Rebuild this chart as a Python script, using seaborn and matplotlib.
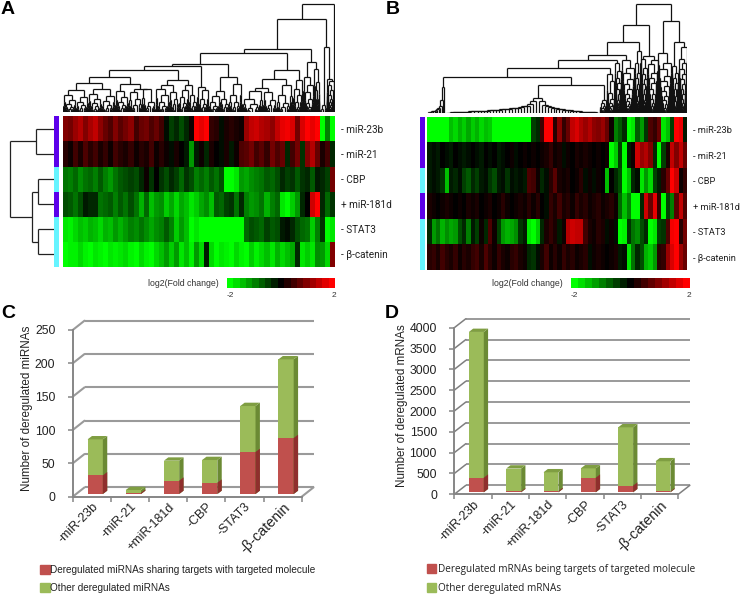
import numpy as np
import pandas as pd
import matplotlib
matplotlib.use("Agg")
import matplotlib.pyplot as plt
import seaborn as sns
from matplotlib.collections import LineCollection
from matplotlib.colors import LinearSegmentedColormap, ListedColormap
from matplotlib.patches import Patch, Polygon

W, H = 740, 594

sns.set_theme(style="white")
plt.rcParams["font.family"] = ["Liberation Sans", "DejaVu Sans"]

# heatmap rows
row_labels = ["- miR-23b", "- miR-21", "- CBP", "+ miR-181d", "- STAT3", "- β-catenin"]
side_groups = [0, 0, 1, 0, 1, 1]
cbar_levels = [-2, -1.75, -1.5, -1.25, -1, -0.75, -0.5, -0.25, 0, 0.25, 0.5, 0.75, 1, 1.25, 1.5, 1.75, 2]

a_mir23b = [1.0, 0.9, 1.2, 1.4, 1.0, 1.3, 1.5, 1.1, 0.8, 0.6, 1.0, 0.7, 0.9, 1.1, 0.5, 0.8, 0.9, 0.6, 0.8, 0.5,
            -0.1, -0.5, -0.3, -0.6, -0.3, 0.1, 2, 1.8, 2, 0.4, 0.3, -0.1, 0.2, 0.3, 0.2, 0.1,
            1.2, 1.5, 1.6, 1.4, 1.3, 1.1, 1.5, 1.8, 1.9, 1.7, 0.9, 1.7, 2, 1.8, 2, -2, -1.0, -2]
a_mir21 = [0.3, 0.1, 0.5, 0.2, 0.6, 0.3, 0.5, 0.2, 0.4, 0.1, 0.5, 0.3, 0.2, 0.4, 0.1, 0.3, 0.2, 0.5, 0.1, 0.3,
           0.1, -0.1, 0.2, 0, -0.2, -1.2, -0.2, 0.1, -0.3, 0.2, 0, -0.1, 0.2, -0.2, 0.1, 0.6,
           0.7, 0.9, 0.5, 0.7, 0.4, 0.9, 0.6, 0.8, -0.3, 0.5, 0.9, -0.4, 1.0, 1.4, 0.8, 0.2, 0.5, -0.3]
a_cbp = [-0.9, -1, -0.8, -1.1, -0.9, -0.8, -1.0, -0.7, -1, -1.2, -0.9, -0.7, -0.6, -0.5, -0.6, -0.3, 0.1, -0.4, 0.0, -0.4,
         -0.6, -0.3, -0.5, -0.8, -0.4, -0.6, -1, -0.8, -1, -0.7, -0.9, -0.6, -2, -2, -1.8, -1.2,
         -1.3, -1.1, -1, -0.9, -0.7, -0.8, -0.6, -0.3, -0.5, -0.4, -0.7, -0.4, -0.3, -0.7, -0.2, -0.3, -0.5, 0.9]
a_mir181d = [-0.6, -0.7, -0.9, -0.6, -0.2, -0.3, -0.3, -0.9, -0.8, -0.7, -1, -0.7, -0.9, -0.6, -0.9, -1.4, -0.8, -1.5, -1.2, -1.1,
             -1.6, -1.3, -1.7, -1.3, -1.5, -1.8, -1.6, -1.3, -1.1, -1.5, -0.7, -0.8, -0.5, -0.4, -0.9, -0.3,
             -1, -1.2, -1.1, -0.9, -1.4, -1, -0.8, -1.8, -2, -1.6, -1.2, -0.3, 0.0, 1.6, 2, -0.3, -0.8, -0.4]
a_stat3 = [-1.8, -1.9, -1.7, -1.5, -1.6, -1.4, -1.5, -1.7, -1.4, -1.5, -1.2, -1.4, -1.2, -1, -1.1, -0.9, -1.1, -1.3, -1.1, -1.0,
           -0.7, -1.0, -1.6, -1.2, -1.5, -2, -1.8, -2, -2, -2, -2, -2, -2, -2, -2, -2,
           -0.8, -0.6, -0.7, -0.8, -0.5, -0.7, -0.6, -0.2, -0.1, -0.3, -0.6, -0.8, -0.9, -1.6, -1.0, -0.4, -2, -1.8]
a_bcat = [-2, -1.9, -1.9, -1.7, -1.9, -2, -1.8, -1.9, -2, -1.8, -1.9, -1.8, -1.7, -1.9, -2, -1.7, -1.9, -2, -1.7, -1.5,
          -1.2, -1.6, -1.2, -1.8, -1.5, -1.9, -1.2, -1.7, -0.2, -1.7, -2, -1.8, -1.9, -2, -1.7, -1.9,
          -2, -1.6, -1.9, -1.7, -1.5, -1.8, -1.4, -1.7, -1.5, -1.3, -0.3, -1.8, -1.6, -1.8, -1.1, -1.2, -1.7, 1.0]

b_mir23b = [-2, -2, -2, -2, -2, -1.5, -1.7, -1.4, -1.6, -1.3, -1.6, -1.4, -1.7, -1.5, -1.6, -2, -2, -2, -2, -2, -2, -2, -2, -2,
            -0.5, -0.3, 0.5, 2, 2, 0.3, 1.1, 0.4, 0.8, 1.5, 1.7, 1.4, 1.2, 1.4, 1.1, 1.0, 1.2, 0.8,
            0.1, -1, -0.7, -0.3, -2, -1.8, -0.7, -1.2, -0.4, 0.6, 0.4, 0.8, -1.8, -1.5, -0.5, 2, 1.8, -0.2]
b_mir21 = [-0.2, -0.1, -0.2, 0, -0.1, -0.2, 0, -0.1, -0.2, -0.1, 0, -0.1, -0.2, 0, -0.1, 0, -0.2, -0.1, 0, 0.1, -0.1, 0, 0.1, 0,
           0.1, 0, 0.1, 0.2, 0.4, 0.1, 0.2, -0.1, 0.1, 0, 0.2, 0.1, 0.2, 0.1, 0, 0.1, 0, 0.1,
           -2, -1.6, -0.5, -2, -0.2, 0.1, 1.6, 1.2, 1.4, 1, -0.3, -2, -0.5, 0.2, 1.5, 1.0, 1.5, 0.8]
b_cbp = [-0.2, -0.1, -0.2, -0.4, -1.5, -0.2, -0.3, -0.1, -0.5, -0.7, -0.3, -0.5, -0.2, -0.1, -0.4, -0.6, -0.2, -0.1, -0.4, -0.1, -0.2, -0.1, -0.2, 0.6,
         0.5, 0.1, -0.3, -0.1, 0.3, 0.7, 0.2, 0.1, 0.2, 0, 0.1, 0.3, -0.1, 0.1, -0.1, 0.1, 0, -1.5, 0, -0.3,
         -0.6, -2, -1.5, -0.3, -0.1, -1.8, -1.2, -1.7, -0.5, -0.2, 0.3, 0.8, 2, 1.6, 0.1, 0.4]
b_mir181d = [0.2, 0.1, 0, 0.1, 0.2, 0.1, 0, 0.1, 0, 0.2, 0.1, 0.2, 0, 0.1, 0.2, 0, 0.1, 0.3, 0.1, 0, 0.1, 0.2, 0.1, 0.3,
             0.1, 0.3, 0, -0.1, 0.4, 0.2, 0.5, 0.2, 0.3, 0.1, 0.4, 0.2, 0.3, 0.1, 0.2, 0.3, 0.1, 0.2, 0.3, 0.1,
             -0.8, -1.5, -1.0, -2, -2, -0.3, 1.6, 0.8, 1.8, 0.4, -2, -0.5, -1, 0.7, 1.5, 0.6]
b_stat3 = [-0.3, -1.2, -0.9, -1.4, -1.1, -1.3, -1.2, -0.6, -0.3, -1.0, -0.2, -0.5, 0.1, -0.3, 0.6, 0.1, -0.5, -1.2, -1.4, -1.3, -1.1, -0.4, -0.2, -1.8,
           -2, -1.6, -0.3, 0.2, 0.4, 0.2, -0.2, 0.1, 1.4, 1.6, 1.5, 1.5, 0.5, 0.2, 0.1, 0.3, 0.2, -0.1, 0.1, -0.1,
           -2, -1.9, -0.4, -0.9, -1.1, -0.6, -0.3, -2, -1.8, -0.5, -0.4, 0.6, 1.9, 2, 0.3, 0.9]
b_bcat = [0.3, 0.4, 0.2, 0.5, 0.3, 0.2, 0.4, 0.1, 0.3, 0.2, 0.4, 0.5, 0.2, 0.6, 0.3, 0.1, 0.4, 0.2, 0.1, 0.3, 0.4, 0.2, 0.1, -0.3,
          -0.4, -0.1, 0.2, 0.5, 0.1, 0.3, 0.1, 0.4, 0.2, 0.3, 0.1, 0.2, 0.3, -0.1, 0.1, 0.2, 0.1, 0, 0.1, 0.2,
          -0.2, -0.1, -1.8, -0.9, -0.3, -0.6, -1.4, -1.6, -1.2, 0.3, 0.4, 1.2, 1.7, 2, 1.2, 0.8]

# bar charts
c_categories = ["-miR-23b", "-miR-21", "+miR-181d", "-CBP", "-STAT3", "-β-catenin"]
c_total = [82, 6, 50, 51, 132, 202]
c_shared = [28, 2, 20, 17, 63, 84]
c_ticks = [0, 50, 100, 150, 200, 250]
d_total = [3850, 570, 480, 575, 1560, 745]
d_targets = [350, 20, 30, 350, 160, 20]
d_ticks = [0, 500, 1000, 1500, 2000, 2500, 3000, 3500, 4000]

GREEN, GREEN_SIDE, GREEN_TOP = "#9bbb59", "#6b8a34", "#7f9e42"
RED, RED_SIDE = "#c0504d", "#8f2f2d"
PURPLE, CYAN = "#5c00ea", "#66f4ff"

heat_cmap = LinearSegmentedColormap.from_list("gbr", ["#00ff00", "#000000", "#ff0000"])


def place(x0, y0, x1, y1):
    return fig.add_axes([x0 / W, 1 - y1 / H, (x1 - x0) / W, (y1 - y0) / H])


def comb(heights, total, twig=0.6):
    # caterpillar subtree, heights go from the top merge down, each leaf split once or twice
    w = total / (len(heights) + 1)
    node = w
    for i, h in enumerate(heights[::-1]):
        tip = h * twig
        side = (tip, (tip * 0.6, w / 4, w / 4), (tip * 0.5, w / 4, w / 4))
        node = (h, node, side) if i % 2 else (h, side, node)
    return node


def lean(heights, total, to_right=True):
    # one sided subtree for the flat parts of the tree
    w = total / (len(heights) + 1)
    node = w
    for h in heights[::-1]:
        node = (h, w, node) if to_right else (h, node, w)
    return node


def walk(node, start, segs):
    if not isinstance(node, tuple):
        return start + node / 2, 0, start + node
    h, left, right = node
    x1, h1, end = walk(left, start, segs)
    x2, h2, end = walk(right, end, segs)
    segs += [[(x1, h1), (x1, h)], [(x1, h), (x2, h)], [(x2, h), (x2, h2)]]
    return (x1 + x2) / 2, h, end


def draw_tree(ax, tree, lw=0.9):
    segs = []
    _, top, end = walk(tree, 0, segs)
    ax.add_collection(LineCollection(segs, colors="#111111", linewidths=lw))
    ax.set_xlim(0, end)
    ax.set_ylim(0, top + 2)
    ax.axis("off")


def heat_panel(rows, bounds, side_x, cbar_box, label_x, label_size):
    x0, y0, x1, y1 = bounds
    ax = place(x0, y0, x1, y1)
    df = pd.DataFrame(rows, index=row_labels)
    sns.heatmap(df, ax=ax, cmap=heat_cmap, vmin=-2, vmax=2, xticklabels=False, yticklabels=row_labels, cbar=False)
    ax.yaxis.tick_right()
    ax.tick_params(axis="y", length=0, pad=4, labelrotation=0, labelsize=label_size)
    for t in ax.get_yticklabels():
        t.set_family(["Roboto", "Liberation Sans"])
        t.set_color("#222222")

    # colour key, same colours in 17 steps
    cax = place(*cbar_box)
    sns.heatmap(pd.DataFrame([cbar_levels]), ax=cax, cmap=heat_cmap, vmin=-2, vmax=2, cbar=False, yticklabels=False)
    cax.set_xticks([0.5, 16.8])
    cax.set_xticklabels(["-2", "2"], rotation=0, fontsize=6, color="#333333")
    cax.tick_params(axis="x", length=0, pad=3)
    fig.text(label_x / W, 1 - (cbar_box[1] + 5) / H, "log2(Fold change)", fontsize=6.3,
             ha="right", va="center", color="#333333")

    sax = place(side_x, y0, side_x + 4.5, y1)
    sns.heatmap(pd.DataFrame(side_groups), ax=sax, cmap=ListedColormap([PURPLE, CYAN]), cbar=False,
                xticklabels=False, yticklabels=False)


def add_depth(ax, bars, dx, dy, side, top, base):
    for p in bars:
        x0 = p.get_x()
        x1 = x0 + p.get_width()
        y1 = p.get_y() + p.get_height()
        ax.add_patch(Polygon([(x1, base), (x1 + dx, base + dy), (x1 + dx, y1 + dy), (x1, y1)],
                             fc=side, ec="none", zorder=3, clip_on=False))
        if top:
            ax.add_patch(Polygon([(x0, y1), (x1, y1), (x1 + dx, y1 + dy), (x0 + dx, y1 + dy)],
                                 fc=top, ec="none", zorder=3, clip_on=False))


def bar_panel(bounds, total, part, ticks, ylabel, wall_dy, bar_base, bar_dy, grid_c, grid_lw, label_y):
    ax = place(*bounds)
    df = pd.DataFrame({"name": c_categories, "total": total, "part": part})
    sns.barplot(data=df, x="name", y="total", color=GREEN, width=0.4, saturation=1, linewidth=0, ax=ax, zorder=2)
    n_green = len(ax.patches)
    sns.barplot(data=df, x="name", y="part", color=RED, width=0.4, saturation=1, linewidth=0, ax=ax, zorder=2.5)
    ax.set_xlim(-0.5, 5.5)
    ax.set_ylim(ticks[0], ticks[-1])
    patches = list(ax.patches)
    for p in patches:
        p.set_x(p.get_x() + 0.09)
        p.set_y(bar_base)
        p.set_clip_on(False)
    add_depth(ax, patches[:n_green], 0.115, bar_dy, GREEN_SIDE, GREEN_TOP, bar_base)
    add_depth(ax, patches[n_green:], 0.115, bar_dy, RED_SIDE, None, bar_base)

    # back wall and the slanted wall lines
    wall_dx = 0.31
    for t in ticks:
        ax.plot([-0.5 + wall_dx, 5.5 + wall_dx], [t + wall_dy, t + wall_dy], color=grid_c, lw=grid_lw,
                zorder=1, clip_on=False, solid_capstyle="butt")
        ax.plot([-0.5, -0.5 + wall_dx], [t, t + wall_dy], color=grid_c, lw=grid_lw, zorder=1, clip_on=False)
    ax.plot([5.5, 5.5 + wall_dx], [0, wall_dy], color=grid_c, lw=grid_lw, zorder=1, clip_on=False)

    ax.set_yticks(ticks)
    ax.set_xticks(range(6))
    ax.set_xticks(np.arange(7) - 0.5, minor=True)
    ax.set_xticklabels(c_categories, rotation=45, ha="right", rotation_mode="anchor", fontsize=9,
                       color="#222222")
    ax.get_xticklabels()[-1].set_fontsize(10.4)
    ax.tick_params(axis="x", which="major", length=0, pad=3)
    ax.tick_params(axis="x", which="minor", length=3.5, width=1.1, color="#868686", bottom=True)
    ax.tick_params(axis="y", length=3.5, width=1.1, color="#868686", labelsize=8.8, pad=9,
                   labelcolor="#222222", left=True)
    ax.set_xlabel("")
    ax.set_ylabel(ylabel, fontsize=8.4, color="#222222", labelpad=1, y=label_y)
    sns.despine(ax=ax)
    for side in ["left", "bottom"]:
        ax.spines[side].set_color("#868686")
        ax.spines[side].set_linewidth(1.4)
    ax.patch.set_alpha(0)
    return ax


fig = plt.figure(figsize=(W / 100, H / 100), dpi=100)

# ---- A ----
a_left = (145,
          (138,
           (125,
            (105,
             (88,
              (65, comb([50, 35, 25, 15, 9], 39), comb([45, 30, 20, 12], 37)),
              (70, comb([55, 40, 28, 18, 10], 39), comb([48, 32, 22, 12], 41))),
             (85, comb([62, 46, 30, 20, 12], 39), (68, comb([60, 40, 22], 40), comb([70, 30, 18], 41)))),
            (95,
             (80, comb([70, 50, 30, 18, 10], 42), comb([60, 38, 24], 28)),
             (80, comb([66, 44, 28, 14], 30), comb([50, 30, 18], 25)))),
           comb([75, 65, 40, 25, 14], 35)),
          (105,
           (62, comb([48, 30, 18, 10], 35), comb([40, 25, 14], 25)),
           comb([85, 50, 30, 16], 40)))
a_mid = (125,
         (100,
          (72, comb([62, 40, 25, 12], 62), comb([60, 36, 20], 40)),
          comb([80, 50, 28, 15], 50)),
         comb([95, 70, 50, 30, 15, 8], 30))
a_far = (150,
         comb([105, 80, 60, 40, 28, 15, 9], 33),
         comb([130, 90, 65, 40, 22], 16))
a_end = (195,
         comb([20, 8], 22),
         comb([98, 92, 80, 65, 52, 40, 30, 22, 15, 10, 6], 22))
a_tree = (325, (278, (190, (178, a_left, a_mid), a_far), a_end), 3)

ax = place(63, 3, 335, 112)
draw_tree(ax, a_tree)

heat_panel([a_mir23b, a_mir21, a_cbp, a_mir181d, a_stat3, a_bcat], (63, 116.3, 335, 267), 54,
           (227, 278, 335, 288), 219, 7.2)

# row tree of panel A
a_rows = (132, (53, 1, 1), (67, (47, 1, 1), (47, 1, 1)))
segs = []
walk(a_rows, 0, segs)
ax = place(8, 116.3, 54, 267)
ax.add_collection(LineCollection([[(h, x) for x, h in s] for s in segs], colors="#222222", linewidths=0.9))
ax.set_xlim(138, 0)
ax.set_ylim(6, 0)
ax.axis("off")

# ---- B ----
b_flat_left = lean([78, 40, 22, 14, 11, 9, 7, 6, 5, 4, 3, 2], 54, to_right=False)
b_flat_a = lean([36, 26, 22, 20, 18, 16, 15, 14, 13, 12, 11, 10, 9, 8, 8, 7, 7, 6, 6, 5, 5, 4, 4, 3, 3, 2, 2, 1, 1],
                285, to_right=False)
b_flat_b = lean([36, 24, 20, 18, 16, 14, 12, 11, 10, 9, 8, 7, 6, 5, 4, 4, 3, 3, 2, 2, 1], 190, to_right=True)
b_clump = comb([38, 30, 22, 15, 10, 6], 20)
b_x612 = (82, (45, b_flat_a, b_flat_b), b_clump)
b_x415 = (107, b_flat_left, b_x612)
b_x735 = comb([115, 95, 60, 42, 30, 22, 15, 10, 6], 25)
b_x755 = comb([150, 125, 105, 90, 70, 55, 40, 30, 22, 15, 10], 20, twig=0.8)
b_x770 = comb([158, 135, 120, 100, 85, 70, 55, 45, 36, 28, 20, 14, 8], 40, twig=0.8)
b_x800 = comb([185, 150, 120, 105, 85, 70, 50, 36, 24, 14], 20, twig=0.8)
b_x815 = comb([160, 135, 115, 100, 85, 70, 55, 40, 30, 18, 10], 20, twig=0.8)
b_x845 = comb([157, 145, 120, 105, 90, 70, 55, 42, 30, 20, 12, 8], 32, twig=0.8)
b_x885 = comb([178, 150, 130, 110, 95, 80, 65, 50, 38, 26, 16, 8, 5], 43, twig=0.8)
b_x915 = comb([140, 120, 105, 90, 70, 50, 35, 22, 12], 20, twig=0.8)
b_x940 = comb([195, 160, 150, 130, 115, 100, 85, 70, 55, 42, 30, 20, 12, 6], 27, twig=0.8)

b_tree = (325,
          (263,
           (210,
            (173,
             (157,
              (135, b_x415, b_x735),
              b_x755),
             b_x770),
            b_x800),
           (170, b_x815, b_x845)),
          (273, b_x885, (210, b_x915, b_x940)))

ax = place(427.3, 3, 687.3, 113)
draw_tree(ax, b_tree)

heat_panel([b_mir23b, b_mir21, b_cbp, b_mir181d, b_stat3, b_bcat], (427.3, 116.7, 687.3, 270), 420,
           (571.3, 278, 690, 288), 563, 6.7)

# ---- C and D ----
bar_panel((72.7, 330, 301.7, 496.7), c_total, c_shared, c_ticks, "Number of deregulated miRNAs",
          14, 4, 5, "#9a9a9a", 1.5, 0.53)
bar_panel((454.3, 327.7, 678.3, 494.3), d_total, d_targets, d_ticks, "Number of deregulated mRNAs",
          216, 48, 80, "#7f7f7f", 1.1, 0.53)

fig.legend(handles=[Patch(color=RED), Patch(color=GREEN)],
           labels=["Deregulated miRNAs sharing targets with targeted molecule", "Other deregulated miRNAs"],
           loc="upper left", bbox_to_anchor=(40 / W, 1 - 565 / H), frameon=False, fontsize=7.2,
           handlelength=0.95, handleheight=0.95, handletextpad=0.05, labelspacing=0.8, borderpad=0, borderaxespad=0,
           labelcolor="#222222")
fig.legend(handles=[Patch(color=RED), Patch(color=GREEN)],
           labels=["Deregulated mRNAs being targets of targeted molecule", "Other deregulated mRNAs"],
           loc="upper left", bbox_to_anchor=(427 / W, 1 - 564 / H), frameon=False,
           prop={"family": ["Open Sans", "DejaVu Sans"], "size": 7.2},
           handlelength=0.9, handleheight=0.9, handletextpad=0.25, labelspacing=0.8, borderpad=0, borderaxespad=0,
           labelcolor="#222222")

# panel letters
for letter, x, y in [("A", 1, 10), ("B", 386, 9), ("C", 1, 313), ("D", 385, 313)]:
    fig.text(x / W, 1 - y / H, letter, fontsize=14, fontweight="bold", color="black", ha="left", va="center")

fig.savefig("out.png", dpi=100)
